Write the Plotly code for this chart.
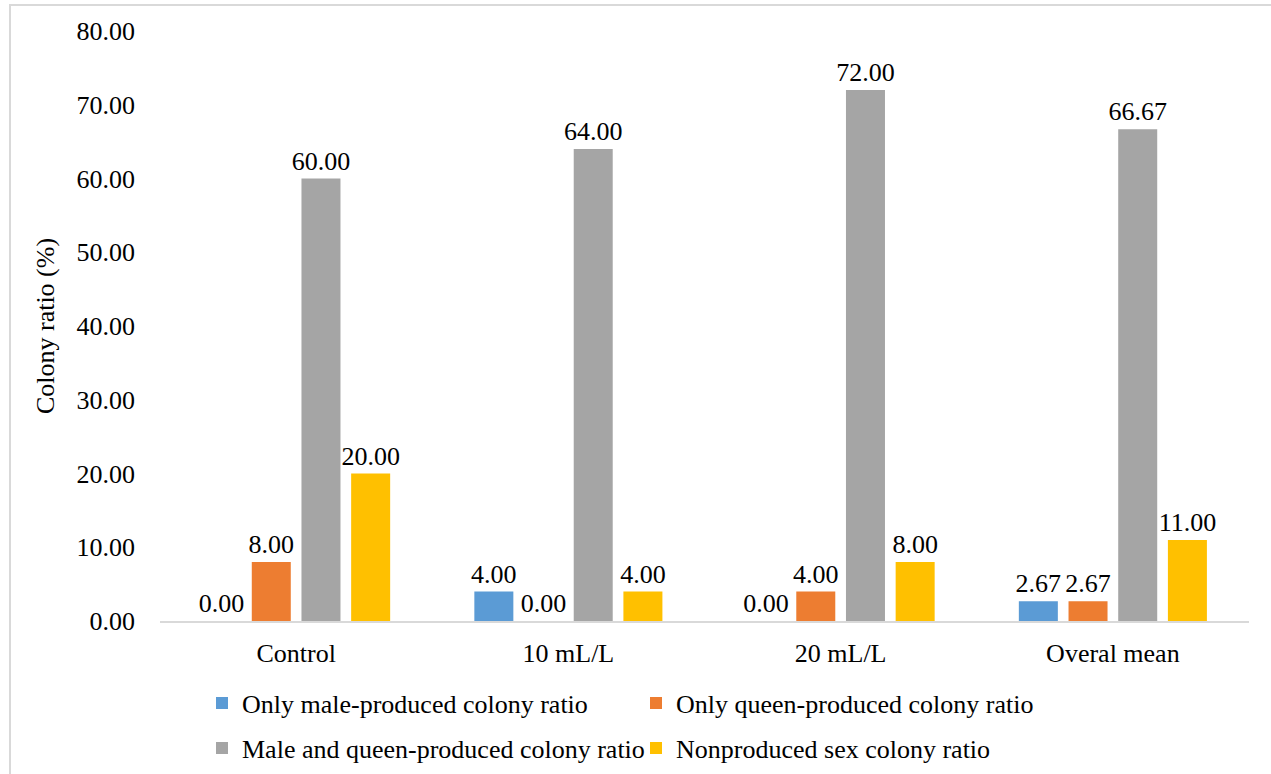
import plotly.graph_objects as go

categories = ["Control", "10 mL/L", "20 mL/L", "Overal mean"]
series_names = [
    "Only male-produced colony ratio",
    "Only queen-produced colony ratio",
    "Male and queen-produced colony ratio",
    "Nonproduced sex colony ratio",
]
only_male = [0.00, 4.00, 0.00, 2.67]
only_queen = [8.00, 0.00, 4.00, 2.67]
male_and_queen = [60.00, 64.00, 72.00, 66.67]
nonproduced = [20.00, 4.00, 8.00, 11.00]
colors = ["#5B9BD5", "#ED7D31", "#A5A5A5", "#FFC000"]
y_ticks = [0, 10, 20, 30, 40, 50, 60, 70, 80]

FONT = "Liberation Serif, Times New Roman, serif"
FS = 26

L, R, T, B = 160, 22, 31, 153
W, H = 1271, 774
PW, PH = W - L - R, H - T - B

fig = go.Figure()
legend_ids = ["legend", "legend", "legend2", "legend2"]
for name, vals, col, lg in zip(series_names, [only_male, only_queen, male_and_queen, nonproduced], colors, legend_ids):
    fig.add_trace(go.Bar(
        x=categories, y=vals, name=name,
        marker=dict(color=col, line=dict(width=0)),
        text=[f"{v:.2f}" for v in vals],
        textposition="outside",
        constraintext="none",
        textfont=dict(family=FONT, size=FS, color="black"),
        cliponaxis=False,
        legend=lg,
    ))

def legend_cfg(ycenter):
    return dict(
        orientation="h", xref="container", yref="container",
        x=202 / W, xanchor="left",
        y=1 - ycenter / H, yanchor="middle",
        entrywidth=389, entrywidthmode="pixels",
        font=dict(family=FONT, size=FS, color="black"),
        itemwidth=30, bgcolor="rgba(0,0,0,0)",
    )

fig.update_layout(
    width=W, height=H,
    margin=dict(l=L, r=R, t=T, b=B, autoexpand=False),
    paper_bgcolor="white", plot_bgcolor="white",
    barmode="group", bargap=0.27, bargroupgap=0.215,
    font=dict(family=FONT, size=FS, color="black"),
    showlegend=True,
    legend=legend_cfg(703),
    legend2=legend_cfg(748),
    xaxis=dict(
        showline=True, linecolor="#D9D9D9", linewidth=1.5,
        showgrid=False, ticks="", ticklabelstandoff=8,
        tickfont=dict(family=FONT, size=FS),
    ),
    yaxis=dict(
        range=[0, 80], tickvals=y_ticks, ticktext=[f"{v:.2f}" for v in y_ticks],
        showgrid=False, zeroline=False, showline=False, ticks="",
        ticklabelstandoff=24,
        tickfont=dict(family=FONT, size=FS),
        title=dict(text="Colony ratio (%)", font=dict(family=FONT, size=FS), standoff=14),
    ),
    shapes=[dict(
        type="rect", xref="paper", yref="paper",
        x0=(10 - L) / PW, x1=(1300 - L) / PW,
        y0=(H - B - 800) / PH, y1=(H - B - 5) / PH,
        line=dict(color="#D9D9D9", width=2), fillcolor="rgba(0,0,0,0)", layer="below",
    )],
)

fig.write_html("out.html")
